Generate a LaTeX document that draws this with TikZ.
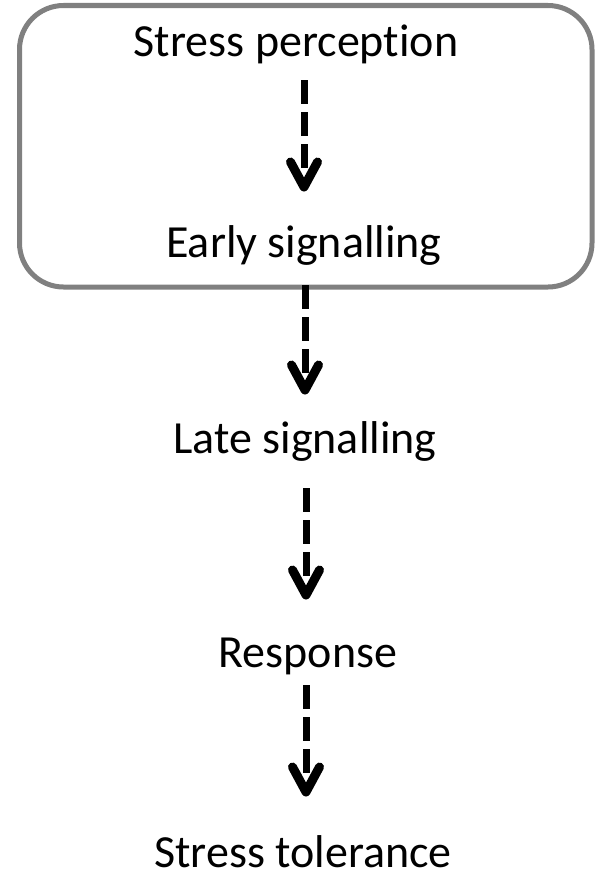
\documentclass[tikz,border=0pt]{standalone}
\usepackage{fontspec}
\setmainfont{Carlito}[Ligatures={NoCommon}]
\usetikzlibrary{calc}
\definecolor{boxgray}{HTML}{808080}
\begin{document}
\begin{tikzpicture}[x=1bp,y=-1bp,
  lbl/.style={anchor=base,inner sep=0pt,font=\fontsize{46bp}{55bp}\selectfont},
  shaft/.style={line width=7bp,dash pattern=on 24bp off 8bp},
  chev/.style={line width=9bp,line cap=round,line join=round},
  grpbox/.style={draw=boxgray,line width=5bp,rounded corners=44bp}]
\useasboundingbox (0,0) rectangle (595,882);
\draw[grpbox] (19.5,5.5) rectangle (592,287);
\node[lbl] (t1) at (296,56) {Stress perception};
\node[lbl] (t2) at (304,257) {Early signalling};
\node[lbl] (t3) at (305,453) {Late signalling};
\node[lbl] (t4) at (308,667) {Response};
\node[lbl] (t5) at (303,867) {Stress tolerance};
% arrow coordinates
\coordinate (s1) at (304,80);  \coordinate (e1) at (304,187);
\coordinate (s2) at (305,285); \coordinate (e2) at (305,390);
\coordinate (s3) at (306,488); \coordinate (e3) at (306,595);
\coordinate (s4) at (306,685); \coordinate (e4) at (306,792);
\foreach \i in {1,2,3,4}{
  \draw[shaft] (s\i) -- ($(e\i)+(0,-12)$);
  \draw[chev] ($(e\i)+(-13.5,-25)$) -- (e\i) -- ($(e\i)+(13.5,-25)$);
}
\end{tikzpicture}
\end{document}
